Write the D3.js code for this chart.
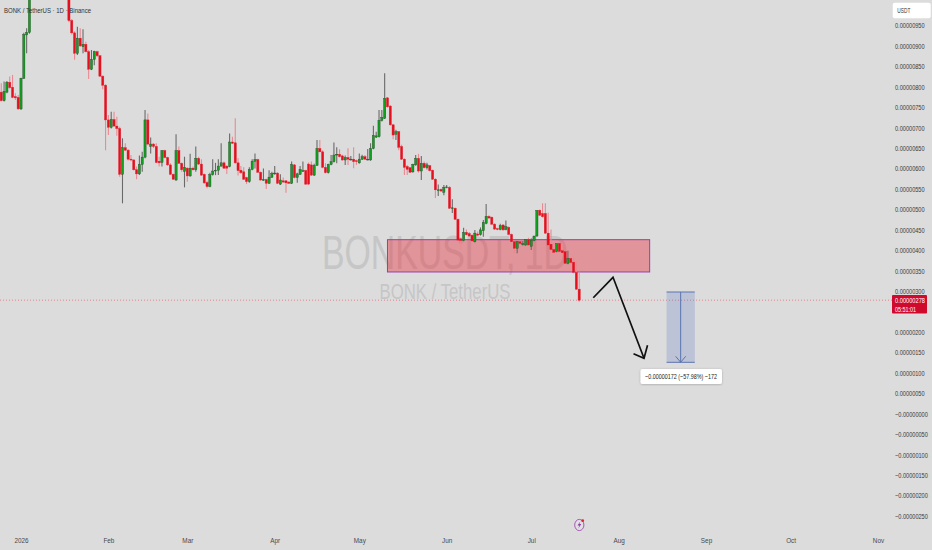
<!DOCTYPE html>
<html lang="en">
<head>
<meta charset="utf-8">
<title>BONKUSDT 1D</title>
<script src="https://cdn.jsdelivr.net/npm/d3@7"></script>
<style>
	html, body { margin: 0; padding: 0; background: #dcdcdc; overflow: hidden; }
	text { font-family: "Liberation Sans", Arial, sans-serif; }
</style>
</head>
<body>
<script>
// prices are in units of 0.00000001 USDT, one candle per day from firstDay
var firstDay = new Date(2025, 11, 25);
var opens = [
	787,766,787,811,799,776,774,746,821,927,
	933,1040,1085,1130,1210,1180,1250,1320,1290,1240,1200,1160,1190,1120,
	1090,962,932,882,919,898,904,886,843,867,886,876,826,804,719,701,
	720,704,698,586,651,645,623,621,597,587,610,628,719,654,660,654,
	618,615,644,627,609,586,572,644,613,593,601,582,601,597,625,
	611,586,566,556,585,595,596,606,614,606,605,665,663,614,596,592,
	578,568,598,618,622,591,572,573,564,579,588,589,562,570,570,567,
	564,609,578,586,594,595,611,609,584,608,649,641,603,590,610,617,
	633,635,631,621,627,622,623,619,614,623,629,622,621,649,677,678,
	718,723,773,753,707,684,690,654,623,605,602,592,609,625,594,613,
	602,607,596,574,547,549,542,554,554,502,503,476,428,424,444,441,
	437,421,440,438,448,466,483,481,464,453,451,462,451,456,439,421,
	405,421,415,413,427,410,424,435,498,490,490,442,415,402,397,417,
	399,397,368,380,371,346,305
];
var highs = [
	809,813,814,825,829,784,780,822,932,943,
	1060,1100,1140,1230,1200,1270,1340,1330,1300,1250,1210,1200,1200,1130,
	1100,966,936,947,943,941,910,890,890,888,888,878,828,806,731,739,
	739,727,702,674,662,648,633,623,605,632,641,743,735,676,662,662,
	629,645,646,629,613,588,684,654,615,629,603,636,605,654,629,
	623,588,570,590,623,614,623,662,617,608,686,678,723,625,606,603,
	580,603,623,637,624,593,600,575,596,592,606,591,586,578,572,569,
	617,611,590,606,617,597,615,617,612,670,670,645,613,612,633,664,
	652,647,634,632,650,631,652,622,637,634,633,648,662,705,690,743,
	743,833,775,755,709,695,692,658,625,609,604,612,633,636,631,617,
	614,609,598,576,561,551,560,560,557,525,505,478,431,455,451,445,
	439,450,446,456,474,513,486,483,466,455,465,464,473,458,441,423,
	423,425,423,420,431,429,428,441,500,515,515,492,451,417,404,419,
	419,401,399,382,382,373,348,315
];
var lows = [
	764,764,784,795,772,768,743,743,819,882,
	930,1050,1075,1120,1160,1170,1240,1270,1230,1190,1150,1140,1110,1090,
	958,928,866,878,898,882,884,819,841,853,873,825,794,645,682,698,
	702,680,580,515,643,620,618,595,574,584,592,625,657,637,650,613,
	605,605,625,606,584,572,570,611,592,554,568,580,595,592,609,
	582,562,552,554,583,584,584,605,599,587,603,660,612,583,587,572,
	562,565,596,600,589,570,570,550,562,577,585,562,560,565,541,562,
	562,576,565,584,592,560,560,582,582,606,639,601,588,588,608,615,
	613,627,619,609,609,620,601,609,612,621,621,620,619,647,675,676,
	715,721,749,705,672,670,645,621,584,584,589,590,607,590,572,600,
	598,593,572,528,533,543,535,552,501,491,474,423,402,422,436,433,
	420,419,435,436,433,464,477,462,450,449,449,448,449,437,419,393,
	393,415,412,411,411,401,422,433,484,480,440,411,400,392,395,395,
	392,366,366,368,344,303,274
];
var closes = [
	766,789,811,798,774,773,746,821,928,933,
	1040,1085,1130,1210,1180,1250,1320,1290,1240,1200,1160,1190,1120,1090,
	962,932,882,919,900,904,886,843,867,886,876,826,804,719,701,720,
	704,698,586,651,645,623,621,597,587,610,628,719,660,660,654,615,
	614,644,627,609,586,574,644,613,597,603,582,601,597,625,611,
	584,565,556,585,594,596,606,614,601,601,665,662,614,595,590,574,
	568,598,618,622,591,572,573,564,579,588,589,564,572,567,565,564,
	610,578,587,598,595,562,562,584,608,649,641,603,590,610,617,633,
	635,629,621,627,623,623,617,617,623,629,623,623,649,681,680,718,
	725,772,751,707,682,690,652,623,603,598,591,610,625,594,613,602,
	609,595,574,548,548,545,554,555,503,504,476,425,424,444,438,435,
	423,442,437,450,468,483,479,464,452,451,460,450,458,439,421,405,
	421,417,416,427,413,425,435,498,486,482,442,413,402,395,417,397,
	394,368,380,370,346,305,278
];

// 250 sits behind the last price tag on the chart, so it is left out
var priceTicks = [950,900,850,800,750,700,650,600,550,500,450,400,350,300,200,150,100,50,0,-50,-100,-150,-200,-250];
var timeTicks = [new Date(2026,0,1), new Date(2026,1,1), new Date(2026,2,1), new Date(2026,3,1), new Date(2026,4,1), new Date(2026,5,1),
	new Date(2026,6,1), new Date(2026,7,1), new Date(2026,8,1), new Date(2026,9,1), new Date(2026,10,1)];
var timeLabels = ["2026","Feb","Mar","Apr","May","Jun","Jul","Aug","Sep","Oct","Nov"];

var lastPrice = 278;
var zoneTop = 426, zoneBottom = 347;
var zoneStart = new Date(2026,4,11), zoneEnd = new Date(2026,7,12);
var measureTop = 298, measureBottom = 126;
var measureStart = new Date(2026,7,18), measureEnd = new Date(2026,7,28);
var pathDays = [new Date(2026,6,23), new Date(2026,6,30), new Date(2026,7,10)];
var pathPrices = [284, 334, 136];

var w = 932, h = 550;
var plotW = 892, plotH = 532;

var x = d3.scaleTime()
	.domain([new Date(2026,0,1), new Date(2026,10,1)])
	.range([21, 878]);
var y = d3.scaleLinear()
	.domain([950, -250])
	.range([25.5, 516]);

var svg = d3.select("body").append("svg")
	.attr("width", w)
	.attr("height", h)
	.style("display", "block");

svg.append("rect").attr("width", w).attr("height", h).attr("fill", "#dcdcdc");

svg.append("defs").append("clipPath").attr("id", "plot")
	.append("rect").attr("width", plotW).attr("height", plotH);

// watermark
svg.append("text").text("BONKUSDT, 1D")
	.attr("x", 445).attr("y", 269)
	.attr("text-anchor", "middle")
	.attr("font-size", 48)
	.attr("fill", "#c6c6c6")
	.attr("textLength", 246).attr("lengthAdjust", "spacingAndGlyphs");
svg.append("text").text("BONK / TetherUS")
	.attr("x", 445).attr("y", 299)
	.attr("text-anchor", "middle")
	.attr("font-size", 22)
	.attr("fill", "#c6c6c6")
	.attr("textLength", 131).attr("lengthAdjust", "spacingAndGlyphs");

var plot = svg.append("g").attr("clip-path", "url(#plot)");

// supply zone, under the candles
plot.append("rect")
	.attr("x", x(zoneStart))
	.attr("y", y(zoneTop))
	.attr("width", x(zoneEnd) - x(zoneStart))
	.attr("height", y(zoneBottom) - y(zoneTop))
	.attr("fill", "#e8303c")
	.attr("fill-opacity", 0.42)
	.attr("stroke", "#9c3da8")
	.attr("stroke-width", 1);

// last price line
plot.append("line")
	.attr("x1", 0).attr("x2", plotW)
	.attr("y1", y(lastPrice)).attr("y2", y(lastPrice))
	.attr("stroke", "#e0606a")
	.attr("stroke-width", 0.7)
	.attr("stroke-dasharray", "1 2");

var candles = d3.range(closes.length).map(function(i) {
	return {day: d3.timeDay.offset(firstDay, i), o: opens[i], h: highs[i], l: lows[i], c: closes[i]};
});

var candle = plot.selectAll("g.candle").data(candles).enter().append("g").attr("class", "candle");

candle.append("line")
	.attr("x1", function(d) { return x(d.day); })
	.attr("x2", function(d) { return x(d.day); })
	.attr("y1", function(d) { return y(d.h); })
	.attr("y2", function(d) { return y(d.l); })
	.attr("stroke", function(d) { return d.c >= d.o ? "#6a6a6a" : "#e88a92"; })
	.attr("stroke-width", 1.1);

candle.append("rect")
	.attr("x", function(d) { return x(d.day) - 1.1; })
	.attr("width", 2.2)
	.attr("y", function(d) { return y(Math.max(d.o, d.c)); })
	.attr("height", function(d) { return Math.max(0.8, Math.abs(y(d.o) - y(d.c))); })
	.attr("fill", function(d) { return d.c >= d.o ? "#10a020" : "#e4101e"; })
	.attr("stroke", function(d) { return d.c >= d.o ? "#2a4a2a" : "#e4202e"; })
	.attr("stroke-width", 0.4);

// projected move
var pathLine = d3.line()
	.x(function(d) { return x(d[0]); })
	.y(function(d) { return y(d[1]); });
var pathData = pathDays.map(function(d, i) { return [d, pathPrices[i]]; });
plot.append("path")
	.attr("d", pathLine(pathData))
	.attr("fill", "none")
	.attr("stroke", "#111")
	.attr("stroke-width", 1.7);
var tip = [x(pathDays[2]), y(pathPrices[2])];
plot.append("path")
	.attr("d", "M" + (tip[0] - 10.5) + "," + (tip[1] - 4.5) + "L" + tip[0] + "," + tip[1] + "L" + (tip[0] + 3.5) + "," + (tip[1] - 13))
	.attr("fill", "none")
	.attr("stroke", "#111")
	.attr("stroke-width", 1.7);

// measure tool
var mx1 = x(measureStart), mx2 = x(measureEnd), mxc = (mx1 + mx2) / 2;
plot.append("rect")
	.attr("x", mx1).attr("y", y(measureTop))
	.attr("width", mx2 - mx1).attr("height", y(measureBottom) - y(measureTop))
	.attr("fill", "#5a78c8").attr("fill-opacity", 0.25);
[measureTop, measureBottom].forEach(function(p) {
	plot.append("line")
		.attr("x1", mx1).attr("x2", mx2).attr("y1", y(p)).attr("y2", y(p))
		.attr("stroke", "#5a74b0").attr("stroke-width", 1);
});
plot.append("line")
	.attr("x1", mxc).attr("x2", mxc).attr("y1", y(measureTop)).attr("y2", y(measureBottom))
	.attr("stroke", "#5a74b0").attr("stroke-width", 1);
plot.append("path")
	.attr("d", "M" + (mxc - 5) + "," + (y(measureBottom) - 6) + "L" + mxc + "," + y(measureBottom) + "L" + (mxc + 5) + "," + (y(measureBottom) - 6))
	.attr("fill", "none").attr("stroke", "#5a74b0").attr("stroke-width", 1);

// measure label
var shadow = svg.select("defs").append("filter").attr("id", "soft");
shadow.append("feDropShadow").attr("dx", 0).attr("dy", 0.5).attr("stdDeviation", 1).attr("flood-opacity", 0.25);
svg.append("rect")
	.attr("x", 640.5).attr("y", 369).attr("width", 81.5).attr("height", 15).attr("rx", 2)
	.attr("fill", "#fff").attr("filter", "url(#soft)");
svg.append("text").text("\u22120.00000172 (\u221257.98%) \u2212172")
	.attr("x", 681).attr("y", 379.3)
	.attr("text-anchor", "middle")
	.attr("font-size", 7.5)
	.attr("fill", "#222")
	.attr("textLength", 72).attr("lengthAdjust", "spacingAndGlyphs");

// title
svg.append("text").text("BONK / TetherUS \u00b7 1D \u00b7 Binance")
	.attr("x", 4).attr("y", 12.5)
	.attr("font-size", 7.5)
	.attr("fill", "#333")
	.attr("textLength", 87).attr("lengthAdjust", "spacingAndGlyphs");

// price axis
var yAxis = d3.axisRight(y)
	.tickValues(priceTicks)
	.tickSize(0)
	.tickPadding(0)
	.tickFormat(function(d) {
		var s = (Math.abs(d) / 1e8).toFixed(8);
		return d <= 0 ? "\u2212" + s : s;
	});
var yg = svg.append("g").attr("transform", "translate(895,0)").call(yAxis);
yg.select(".domain").remove();
yg.selectAll("text")
	.attr("font-size", 7.2)
	.attr("font-family", null)
	.attr("fill", "#3a3a3a")
	.attr("transform", "scale(0.78,1)");

// time axis
var xAxis = d3.axisBottom(x)
	.tickValues(timeTicks)
	.tickSize(0)
	.tickPadding(0)
	.tickFormat(function(d, i) { return timeLabels[i]; });
var xg = svg.append("g").attr("transform", "translate(0,538)").call(xAxis);
xg.select(".domain").remove();
xg.selectAll("text")
	.attr("font-size", 7.5)
	.attr("font-family", null)
	.attr("fill", "#4a4a4a")
	.attr("transform", "scale(0.85,1)")
	.attr("x", function(d) { return 0; });

// USDT button
svg.append("rect")
	.attr("x", 892.7).attr("y", 2.7).attr("width", 38).attr("height", 15.6).attr("rx", 2)
	.attr("fill", "#fff");
svg.append("text").text("USDT")
	.attr("x", 897.3).attr("y", 13.2)
	.attr("font-size", 7)
	.attr("fill", "#333")
	.attr("textLength", 13).attr("lengthAdjust", "spacingAndGlyphs");

// last price tag
svg.append("rect")
	.attr("x", 892).attr("y", 295).attr("width", 35).attr("height", 18.5).attr("rx", 1)
	.attr("fill", "#cf0a2c");
svg.append("text").text((lastPrice / 1e8).toFixed(8))
	.attr("x", 895).attr("y", 303)
	.attr("font-size", 7).attr("fill", "#fff")
	.attr("textLength", 30).attr("lengthAdjust", "spacingAndGlyphs");
svg.append("text").text("05:51:01")
	.attr("x", 895).attr("y", 311.5)
	.attr("font-size", 7).attr("fill", "#fff")
	.attr("textLength", 21).attr("lengthAdjust", "spacingAndGlyphs");

// broker logo near the bottom
var logo = svg.append("g").attr("transform", "translate(579.3,525)");
logo.append("ellipse").attr("rx", 4.6).attr("ry", 5.6)
	.attr("fill", "#e2dfe4").attr("stroke", "#a04cb0").attr("stroke-width", 0.9);
logo.append("path").attr("d", "M1,-3.4L-1.8,0.6H0.1L-1,3.6L2,-0.9H0.1Z").attr("fill", "#8e3aa0");
logo.append("circle").attr("cx", 3.4).attr("cy", -4.3).attr("r", 1.4).attr("fill", "#e8202e");
</script>
</body>
</html>
